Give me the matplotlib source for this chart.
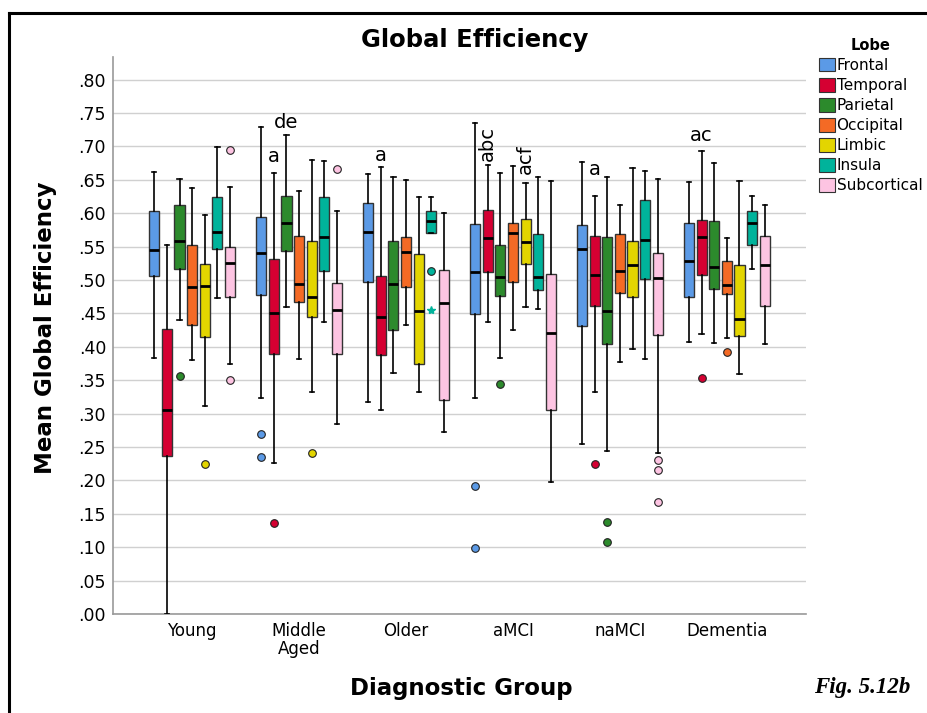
import matplotlib
matplotlib.use("Agg")
import matplotlib.pyplot as plt
from matplotlib.patches import Patch
from matplotlib.lines import Line2D
from matplotlib.ticker import FuncFormatter, MultipleLocator

GROUPS = ["Young", "Middle\nAged", "Older", "aMCI", "naMCI", "Dementia"]
LOBES = ["Frontal", "Temporal", "Parietal", "Occipital", "Limbic", "Insula", "Subcortical"]
COLORS = ["#5b9ae6", "#d50032", "#2c8a2c", "#f46a25", "#e3d500", "#00b39b", "#fdc4e2"]

# [whisker low, Q1, median, Q3, whisker high] per group
FRONTAL = [[0.384, 0.506, 0.545, 0.603, 0.662],
           [0.323, 0.478, 0.541, 0.594, 0.729],
           [0.318, 0.497, 0.572, 0.615, 0.659],
           [0.324, 0.449, 0.512, 0.584, 0.735],
           [0.255, 0.431, 0.546, 0.583, 0.677],
           [0.407, 0.475, 0.528, 0.585, 0.647]]
TEMPORAL = [[0.000, 0.237, 0.305, 0.427, 0.552],
            [0.226, 0.390, 0.450, 0.532, 0.660],
            [0.305, 0.388, 0.445, 0.506, 0.670],
            [0.437, 0.512, 0.563, 0.605, 0.673],
            [0.332, 0.461, 0.508, 0.566, 0.626],
            [0.419, 0.508, 0.564, 0.590, 0.693]]
PARIETAL = [[0.440, 0.516, 0.558, 0.613, 0.652],
            [0.459, 0.544, 0.585, 0.626, 0.717],
            [0.361, 0.425, 0.494, 0.559, 0.655],
            [0.383, 0.476, 0.505, 0.552, 0.661],
            [0.244, 0.404, 0.453, 0.564, 0.655],
            [0.406, 0.487, 0.519, 0.588, 0.676]]
OCCIPITAL = [[0.381, 0.432, 0.489, 0.553, 0.638],
             [0.382, 0.467, 0.494, 0.566, 0.634],
             [0.432, 0.490, 0.542, 0.565, 0.650],
             [0.425, 0.497, 0.571, 0.586, 0.671],
             [0.378, 0.480, 0.513, 0.569, 0.613],
             [0.414, 0.479, 0.493, 0.528, 0.563]]
LIMBIC = [[0.311, 0.415, 0.491, 0.524, 0.598],
          [0.332, 0.445, 0.475, 0.558, 0.680],
          [0.332, 0.374, 0.453, 0.539, 0.625],
          [0.460, 0.524, 0.557, 0.592, 0.646],
          [0.397, 0.475, 0.523, 0.558, 0.668],
          [0.360, 0.416, 0.442, 0.523, 0.649]]
INSULA = [[0.473, 0.546, 0.572, 0.625, 0.699],
          [0.437, 0.514, 0.565, 0.624, 0.678],
          [0.570, 0.570, 0.588, 0.604, 0.625],
          [0.457, 0.485, 0.505, 0.569, 0.655],
          [0.382, 0.501, 0.560, 0.620, 0.663],
          [0.516, 0.552, 0.586, 0.604, 0.626]]
SUBCORTICAL = [[0.374, 0.475, 0.526, 0.549, 0.640],
               [0.284, 0.390, 0.455, 0.495, 0.604],
               [0.273, 0.321, 0.465, 0.515, 0.601],
               [0.198, 0.306, 0.420, 0.509, 0.648],
               [0.241, 0.417, 0.503, 0.541, 0.652],
               [0.404, 0.461, 0.523, 0.566, 0.612]]

FRONTAL_OUT = [[], [0.269, 0.235], [], [0.191, 0.099], [], []]
TEMPORAL_OUT = [[], [0.137], [], [], [0.225], [0.354]]
PARIETAL_OUT = [[0.357], [], [], [0.345], [0.138, 0.108], []]
OCCIPITAL_OUT = [[], [], [], [], [], [0.392]]
LIMBIC_OUT = [[0.225], [0.241], [], [], [], []]
INSULA_OUT = [[], [], [0.513], [], [], []]
SUBCORTICAL_OUT = [[0.695, 0.351], [0.666], [], [], [0.230, 0.216, 0.168], []]

# extreme outlier (star): (group index, lobe index, value)
EXTREMES = [(2, 5, 0.455)]

# significance letters: (group index, lobe index, text, value, vertical)
LETTERS = [(1, 2, "de", 0.736, False), (1, 1, "a", 0.685, False),
           (2, 1, "a", 0.686, False), (3, 1, "abc", 0.705, True),
           (3, 4, "acf", 0.681, True), (4, 1, "a", 0.666, False),
           (5, 1, "ac", 0.717, False)]

STATS = [FRONTAL, TEMPORAL, PARIETAL, OCCIPITAL, LIMBIC, INSULA, SUBCORTICAL]
OUTS = [FRONTAL_OUT, TEMPORAL_OUT, PARIETAL_OUT, OCCIPITAL_OUT, LIMBIC_OUT,
        INSULA_OUT, SUBCORTICAL_OUT]

W, H = 928, 713
fig = plt.figure(figsize=(W / 100, H / 100), dpi=100)
ax = fig.add_axes([113 / W, 1 - 614 / H, 693 / W, 557 / H])

step = 0.118
bw = 0.095

def offs(li):
    return (li - 3) * step

for li, (stats, outs, col) in enumerate(zip(STATS, OUTS, COLORS)):
    bxs = []
    for g, (s, o) in enumerate(zip(stats, outs)):
        bxs.append(dict(whislo=s[0], q1=s[1], med=s[2], q3=s[3], whishi=s[4],
                        fliers=o, label=""))
    pos = [g + offs(li) for g in range(len(GROUPS))]
    ax.bxp(bxs, positions=pos, widths=bw, patch_artist=True, showfliers=True,
           boxprops=dict(facecolor=col, edgecolor="#333333", linewidth=1.0),
           medianprops=dict(color="black", linewidth=2.0),
           whiskerprops=dict(color="black", linewidth=1.2),
           capprops=dict(color="black", linewidth=1.2),
           capwidths=0.04,
           flierprops=dict(marker="o", markerfacecolor=col, markeredgecolor="#222222",
                           markersize=5.5, markeredgewidth=0.8, linestyle="none"),
           manage_ticks=False, zorder=3)

for g, li, v in EXTREMES:
    ax.plot([g + offs(li)], [v], marker="*", color=COLORS[li], markersize=6,
            linestyle="none", zorder=4)

for g, li, t, v, vert in LETTERS:
    ax.text(g + offs(li), v, t, ha="center", va="center", fontsize=14,
            rotation=90 if vert else 0, zorder=5)

ax.set_xlim(-0.74, 5.74)
ax.set_ylim(0, 0.834)
ax.set_xticks(range(len(GROUPS)))
ax.set_xticklabels(GROUPS, fontsize=12, linespacing=0.95)
ax.yaxis.set_major_locator(MultipleLocator(0.05))
ax.yaxis.set_major_formatter(FuncFormatter(lambda v, p: f"{v:.2f}".lstrip("0")))
ax.tick_params(axis="y", labelsize=12.5, length=0, pad=5)
ax.tick_params(axis="x", length=0, pad=6)
ax.grid(axis="y", color="#d0d0d0", linewidth=1.0, zorder=0)
ax.set_axisbelow(True)
for s in ["top", "right"]:
    ax.spines[s].set_visible(False)
for s in ["left", "bottom"]:
    ax.spines[s].set_color("#999999")
    ax.spines[s].set_linewidth(1.2)

fig.text(475 / W, 1 - 40 / H, "Global Efficiency", ha="center", va="center",
         fontsize=17.5, fontweight="bold")
fig.text(46 / W, 1 - 328 / H, "Mean Global Efficiency", ha="center", va="center",
         rotation=90, fontsize=16.5, fontweight="bold")
fig.text(461 / W, 1 - 688 / H, "Diagnostic Group", ha="center", va="center",
         fontsize=16.5, fontweight="bold")
fig.text(862 / W, 1 - 688 / H, "Fig. 5.12b", ha="center", va="center",
         fontsize=16.5, fontweight="bold", style="italic", family="Liberation Serif")

handles = [Patch(facecolor=c, edgecolor="#333333", linewidth=0.8, label=l)
           for c, l in zip(COLORS, LOBES)]
leg = fig.legend(handles=handles, loc="upper left", bbox_to_anchor=(808 / W, 1 - 27 / H),
                 frameon=False, fontsize=11, title="Lobe",
                 title_fontproperties={"weight": "bold", "size": 10.5},
                 handlelength=1.05, handleheight=1.0, handletextpad=0.12,
                 labelspacing=0.33, borderpad=0.2)

# figure border (top and left visible)
fig.add_artist(Line2D([9 / W, 9 / W], [-0.1, 1 - 13 / H], transform=fig.transFigure,
                      color="black", linewidth=2.2))
fig.add_artist(Line2D([9 / W, 1.1], [1 - 13 / H, 1 - 13 / H], transform=fig.transFigure,
                      color="black", linewidth=2.2))

fig.savefig("out.png", dpi=100)
